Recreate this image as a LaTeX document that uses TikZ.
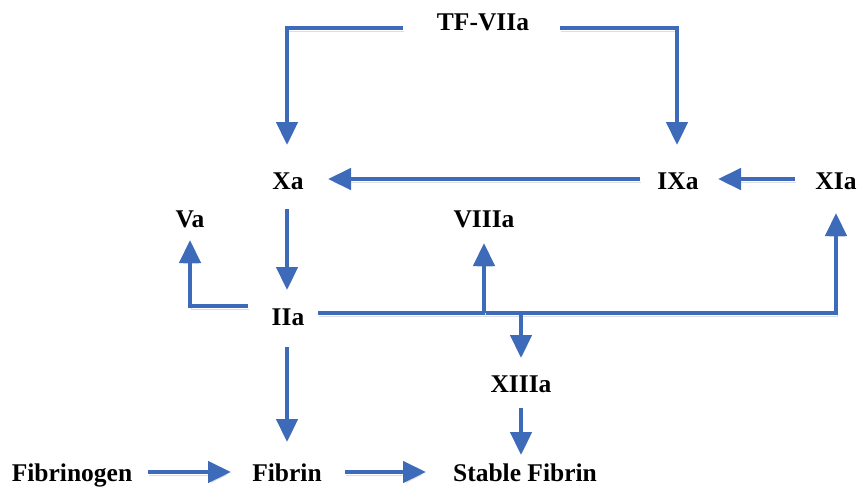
\documentclass[tikz,border=0pt]{standalone}
\usepackage{fontspec}
\setmainfont{Liberation Serif}
\usetikzlibrary{arrows.meta,calc}
\definecolor{arrblue}{RGB}{62,106,186}
\begin{document}
\begin{tikzpicture}[x=1pt,y=-1pt,
  lbl/.style={font=\fontsize{25.5}{28}\selectfont\bfseries, inner sep=0pt, text height=16.9pt, text depth=0pt, anchor=center},
  arr/.style={draw=arrblue, line width=4.5pt, -{Triangle[width=21pt,length=23pt]},
    preaction={draw=black!13, transform canvas={shift={(1pt,-3pt)}}}}]
\useasboundingbox (0,0) rectangle (860,491);
% nodes
\node[lbl] (tf)        at (483,22)  {TF-VIIa};
\node[lbl] (xa)        at (288,181) {Xa};
\node[lbl] (ixa)       at (678,181) {IXa};
\node[lbl] (xia)       at (836,181) {XIa};
\node[lbl] (va)        at (190,219) {Va};
\node[lbl] (viiia)     at (484,219) {VIIIa};
\node[lbl] (iia)       at (288,317) {IIa};
\node[lbl] (xiiia)     at (521,384) {XIIIa};
\node[lbl] (fibrinogen) at (72,473) {Fibrinogen};
\node[lbl] (fibrin)    at (287,473) {Fibrin};
\node[lbl] (stable)    at (525,473) {Stable Fibrin};
% bus coordinate of the IIa line
\coordinate (hline) at ($(iia)+(30,-4)$);
% connectors
\draw[arr] ($(tf)+(-80,6)$) -| ($(xa)+(-1,-36)$);
\draw[arr] ($(tf)+(77,6)$) -| ($(ixa)+(-1,-36)$);
\draw[arr] ($(ixa)+(-38,-2)$) -- ($(xa)+(40,-2)$);
\draw[arr] ($(xia)+(-41,-2)$) -- ($(ixa)+(40,-2)$);
\draw[arr] ($(xa)+(-1,28)$) -- ($(iia)+(-1,-27)$);
\draw[arr] ($(iia)+(-40,-11)$) -| ($(va)+(0,21)$);
\draw[arr] (hline) -| ($(xia)+(0,32)$);
\draw[arr] (viiia |- hline) -- ($(viiia)+(0,24)$);
\draw[arr] (xiiia |- hline) -- ($(xiiia)+(0,-26)$);
\draw[arr] ($(iia)+(-1,30)$) -- ($(fibrin)+(0,-31)$);
\draw[arr] ($(fibrinogen)+(76,-1)$) -- ($(fibrin)+(-56,-1)$);
\draw[arr] ($(fibrin)+(58,-1)$) -- ($(stable)+(-99,-1)$);
\draw[arr] ($(xiiia)+(0,24)$) -- ($(xiiia)+(0,71)$);
\end{tikzpicture}
\end{document}
